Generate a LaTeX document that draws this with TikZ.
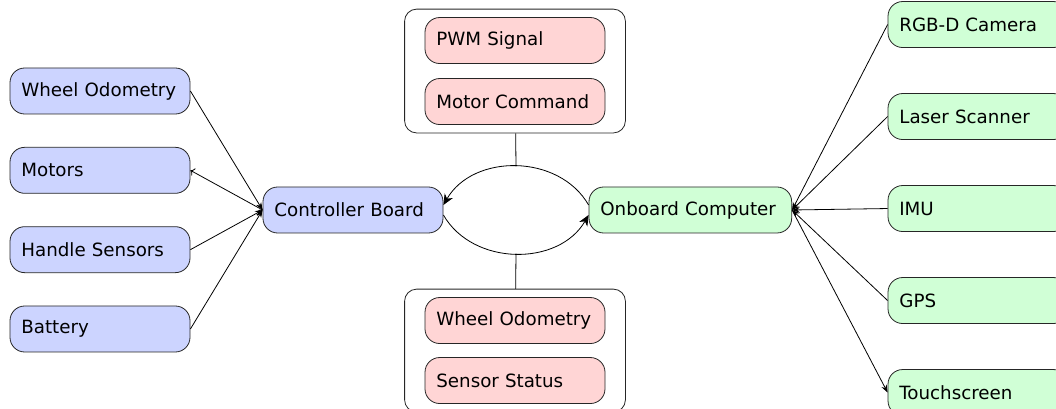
\documentclass[tikz,border=0pt]{standalone}
\usepackage{fontspec}
\setmainfont{DejaVu Sans}
\usepackage{tikz}
\usetikzlibrary{arrows.meta, positioning, fit}
\usepackage{xcolor}
\definecolor{hwblue}{RGB}{204,212,255}
\definecolor{pcgreen}{RGB}{208,255,214}
\definecolor{msgred}{RGB}{255,213,213}

\begin{document}
\begin{tikzpicture}[node distance=59.5pt, semithick, font=\fontsize{13.7}{16}\selectfont]
            \tikzstyle{block} = [rectangle, draw=black!85, text width=118pt, align=left, inner xsep=8.5pt, minimum height=34.5pt, rounded corners=11pt]
            \tikzstyle{hw} = [block, fill=hwblue]
            \tikzstyle{pc} = [block, fill=pcgreen]
            \tikzstyle{msg} = [block, fill=msgred]
            \tikzstyle{group} = [rectangle, draw=black!85, rounded corners=9pt, inner xsep=15pt, inner ysep=6pt]
            \tikzstyle{link} = [draw, -{Stealth}]
            \tikzstyle{flow} = [draw, -{Stealth[length=8pt, width=7pt, inset=2.5pt]}]

            \useasboundingbox (0,0) rectangle (792pt,-306.75pt);

            % controller side
            \node [hw] (board) at (264.75pt,-157.5pt) {Controller Board};
            \node [hw] (odom) at (75pt,-68.25pt) {Wheel Odometry};
            \node [hw, below of=odom] (motors) {Motors};
            \node [hw, below of=motors] (handle) {Handle Sensors};
            \node [hw, below of=handle] (battery) {Battery};

            % computer side
            \node [pc, text width=135pt] (computer) at (517.75pt,-157.5pt) {Onboard Computer};
            \node [pc] (camera) at (733.5pt,-18.4pt) {RGB-D Camera};
            \node [pc, below of=camera, node distance=69pt] (laser) {Laser Scanner};
            \node [pc, below of=laser, node distance=69pt] (imu) {IMU};
            \node [pc, below of=imu, node distance=69pt] (gps) {GPS};
            \node [pc, below of=gps, node distance=69pt] (touch) {Touchscreen};

            % messages
            \node [msg] (pwm) at (386.25pt,-30.4pt) {PWM Signal};
            \node [msg, below of=pwm, node distance=45.75pt] (cmd) {Motor Command};
            \node [group, fit=(pwm)(cmd)] (down) {};
            \node [msg] (odommsg) at (386.25pt,-240.4pt) {Wheel Odometry};
            \node [msg, below of=odommsg, node distance=45pt] (status) {Sensor Status};
            \node [group, fit=(odommsg)(status)] (up) {};

            \path [link] (odom.east) -- (board.west);
            \path [link, <->] (motors.east) -- (board.west);
            \path [link] (handle.east) -- (board.west);
            \path [link] (battery.east) -- (board.west);

            \path [link] (camera.west) -- (computer.east);
            \path [link] (laser.west) -- (computer.east);
            \path [link] (imu.west) -- (computer.east);
            \path [link] (gps.west) -- (computer.east);
            \path [link] (computer.east) -- (touch.west);

            \path [flow] ([yshift=3.75pt]computer.west) to [out=120, in=60, looseness=1.05] coordinate [pos=0.5] (upper) ([yshift=3.75pt]board.east);
            \path [flow] ([yshift=-3.75pt]board.east) to [out=-60, in=-120, looseness=1.05] coordinate [pos=0.5] (lower) ([yshift=-3.75pt]computer.west);
            \draw (down) -- (upper);
            \draw (up) -- (lower);
        \end{tikzpicture}
\end{document}
